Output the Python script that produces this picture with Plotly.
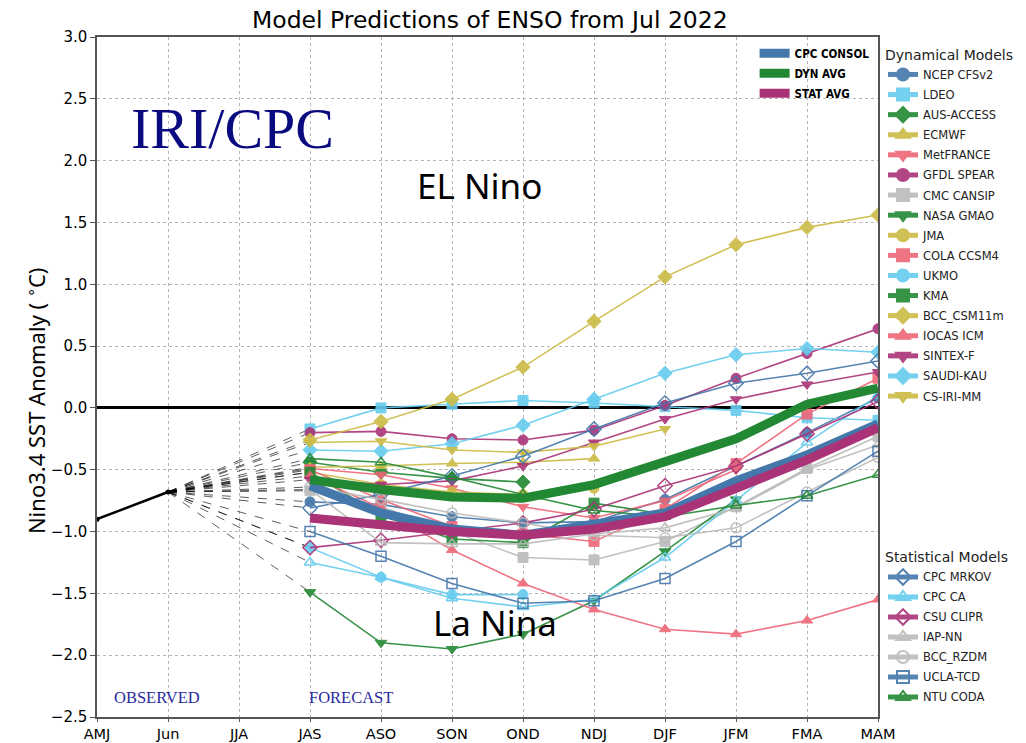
import plotly.graph_objects as go

# ---------------- data ----------------
all_labels = ["AMJ", "Jun", "JJA", "JAS", "ASO", "SON", "OND", "NDJ", "DJF", "JFM", "FMA", "MAM"]
fc_labels = ["JAS", "ASO", "SON", "OND", "NDJ", "DJF", "JFM", "FMA", "MAM"]
y_ticks = [3.0, 2.5, 2.0, 1.5, 1.0, 0.5, 0.0, -0.5, -1.0, -1.5, -2.0, -2.5]

obs_labels = ["AMJ", "Jun"]
obs_values = [-0.90, -0.68]

ncep_cfsv2 = [-0.76, -0.78, -0.88, -0.93, -0.92, -0.74, -0.47, -0.20, 0.08]
ldeo = [-0.17, 0.00, 0.03, 0.06, 0.04, 0.01, -0.02, -0.08, -0.10]
aus_access = [-0.44, -0.52, -0.57, -0.60]
ecmwf = [-0.48, -0.47, -0.45, -0.44, -0.41]
metfrance = [-0.49, -0.54, -0.65, -0.80, -0.89, -0.75, -0.50]
gfdl_spear = [-0.20, -0.19, -0.25, -0.26, -0.18, 0.02, 0.24, 0.44, 0.64]
cmc_cansip = [-0.67, -0.80, -1.00, -1.21, -1.23, -1.08, -0.80, -0.49, -0.23]
nasa_gmao = [-1.49, -1.90, -1.95, -1.83, -1.56, -1.16, -0.74]
jma = [-0.52, -0.62, -0.68, -0.70, -0.65]
cola_ccsm4 = [-0.50, -0.74, -0.96, -1.02, -1.08, -0.82, -0.45, -0.05, 0.24]
ukmo = [-1.13, -1.37, -1.51, -1.51]
kma = [-0.52, -0.87, -1.06, -1.09, -0.77, -0.86]
bcc_csm11m = [-0.26, -0.11, 0.07, 0.33, 0.70, 1.06, 1.32, 1.46, 1.56]
iocas_icm = [-0.55, -0.81, -1.15, -1.42, -1.63, -1.79, -1.83, -1.72, -1.55]
sintex_f = [-0.58, -0.62, -0.59, -0.47, -0.28, -0.09, 0.07, 0.19, 0.29]
saudi_kau = [-0.34, -0.35, -0.29, -0.14, 0.07, 0.28, 0.43, 0.48, 0.45]
cs_iri_mm = [-0.28, -0.27, -0.34, -0.36, -0.31, -0.17]

cpc_mrkov = [-0.81, -0.70, -0.55, -0.39, -0.17, 0.04, 0.20, 0.28, 0.38]
cpc_ca = [-1.25, -1.37, -1.54, -1.61, -1.55, -1.21, -0.75, -0.28, 0.10]
csu_clipr = [-1.13, -1.07, -1.00, -0.93, -0.82, -0.63, -0.47, -0.21, 0.05]
iap_nn = [-0.66, -1.09, -1.10, -1.10, -1.02, -0.97, -0.81, -0.50, -0.30]
bcc_rzdm = [-0.64, -0.74, -0.85, -0.93, -1.03, -1.05, -0.97, -0.68, -0.40]
ucla_tcd = [-1.00, -1.20, -1.42, -1.58, -1.56, -1.38, -1.08, -0.71, -0.35]
ntu_coda = [-0.41, -0.44, -0.56, -0.70, -0.83, -0.88, -0.79, -0.71, -0.54]

cpc_consol = [-0.63, -0.85, -0.98, -1.03, -0.94, -0.85, -0.59, -0.38, -0.13]
dyn_avg = [-0.58, -0.66, -0.72, -0.73, -0.62, -0.44, -0.25, 0.03, 0.16]
stat_avg = [-0.89, -0.94, -1.00, -1.03, -0.98, -0.88, -0.65, -0.42, -0.16]

# ---------------- styles ----------------
BLUE, CYAN, GREEN, YELLOW = "#4477AA", "#66CCEE", "#228833", "#CCBB44"
RED, PURPLE, GRAY = "#EE6677", "#AA3377", "#BBBBBB"

dyn_models = [
    ("NCEP CFSv2", ncep_cfsv2, BLUE, "circle"),
    ("LDEO", ldeo, CYAN, "square"),
    ("AUS-ACCESS", aus_access, GREEN, "diamond"),
    ("ECMWF", ecmwf, YELLOW, "triangle-up"),
    ("MetFRANCE", metfrance, RED, "triangle-down"),
    ("GFDL SPEAR", gfdl_spear, PURPLE, "circle"),
    ("CMC CANSIP", cmc_cansip, GRAY, "square"),
    ("NASA GMAO", nasa_gmao, GREEN, "triangle-down"),
    ("JMA", jma, YELLOW, "circle"),
    ("COLA CCSM4", cola_ccsm4, RED, "square"),
    ("UKMO", ukmo, CYAN, "circle"),
    ("KMA", kma, GREEN, "square"),
    ("BCC_CSM11m", bcc_csm11m, YELLOW, "diamond"),
    ("IOCAS ICM", iocas_icm, RED, "triangle-up"),
    ("SINTEX-F", sintex_f, PURPLE, "triangle-down"),
    ("SAUDI-KAU", saudi_kau, CYAN, "diamond"),
    ("CS-IRI-MM", cs_iri_mm, YELLOW, "triangle-down"),
]
stat_models = [
    ("CPC MRKOV", cpc_mrkov, BLUE, "diamond-open"),
    ("CPC CA", cpc_ca, CYAN, "triangle-up-open"),
    ("CSU CLIPR", csu_clipr, PURPLE, "diamond-open"),
    ("IAP-NN", iap_nn, GRAY, "triangle-up-open"),
    ("BCC_RZDM", bcc_rzdm, GRAY, "circle-open"),
    ("UCLA-TCD", ucla_tcd, BLUE, "square-open"),
    ("NTU CODA", ntu_coda, GREEN, "triangle-up-open"),
]
averages = [
    ("CPC CONSOL", cpc_consol, BLUE),
    ("DYN AVG", dyn_avg, GREEN),
    ("STAT AVG", stat_avg, PURPLE),
]

fig = go.Figure()

# dashed connectors from last observation to each model's first forecast
dx, dy = [], []
for _, vals, _, _ in dyn_models + stat_models:
    dx += [obs_labels[-1], fc_labels[0], None]
    dy += [obs_values[-1], vals[0], None]
fig.add_trace(go.Scatter(x=dx, y=dy, mode="lines", showlegend=False, hoverinfo="skip",
                         line=dict(color="rgba(0,0,0,0.8)", width=0.8, dash="dash")))

# observed
fig.add_trace(go.Scatter(x=obs_labels, y=obs_values, mode="lines+markers", showlegend=False,
                         line=dict(color="black", width=2.5), marker=dict(color="black", size=5)))

for name, vals, col, sym in dyn_models:
    fig.add_trace(go.Scatter(
        x=fc_labels[:len(vals)], y=vals, name=name, mode="lines+markers", legend="legend2",
        legendgroup=name,
        line=dict(color=col, width=1.6),
        marker=dict(symbol=sym, size=11 if "diamond" in sym else 10, color=col,
                    line=dict(color=col, width=1)),
        opacity=0.9))

for name, vals, col, sym in stat_models:
    fig.add_trace(go.Scatter(
        x=fc_labels[:len(vals)], y=vals, name=name, mode="lines+markers", legend="legend3",
        legendgroup=name,
        line=dict(color=col, width=1.6),
        marker=dict(symbol=sym, size=11 if "diamond" in sym else 10, color=col,
                    line=dict(color=col, width=1.5)),
        opacity=0.9))

for name, vals, col in averages:
    fig.add_trace(go.Scatter(
        x=fc_labels, y=vals, name=name, mode="lines", legend="legend", legendgroup=name,
        line=dict(color=col, width=9)))

SANS = "DejaVu Sans, sans-serif"
SERIF = "Liberation Serif, Times New Roman, serif"
ann_font = "Noto Sans, Open Sans, sans-serif"

# the page body adds an 8px offset, so the figure is 8px smaller and margins shifted
fig.update_layout(
    width=1018, height=735,
    margin=dict(l=89, r=148, t=29, b=26, autoexpand=False),
    paper_bgcolor="white", plot_bgcolor="white",
    title=dict(text="Model Predictions of ENSO from Jul 2022", xref="paper", x=0.503, xanchor="center",
               yref="container", y=0.984, yanchor="middle", font=dict(family=SANS, size=23.5, color="black")),
    xaxis=dict(type="category", categoryorder="array", categoryarray=all_labels,
               range=[0, len(all_labels) - 1], tickvals=all_labels, automargin=False,
               showgrid=True, gridcolor="#b5b5b5", griddash="dot", gridwidth=1,
               showline=True, linecolor="#555555", linewidth=1.5, mirror=True,
               ticks="outside", ticklen=3, tickcolor="#555555",
               tickfont=dict(family=SANS, size=14.5, color="black"), zeroline=False),
    yaxis=dict(range=[-2.5, 3.0], tickvals=y_ticks, tickformat=".1f", automargin=False,
               showgrid=True, gridcolor="#b5b5b5", griddash="dot", gridwidth=1,
               showline=True, linecolor="#555555", linewidth=1.5, mirror=True,
               ticks="outside", ticklen=5, tickcolor="#555555",
               tickfont=dict(family=SANS, size=15, color="black"),
               zeroline=True, zerolinecolor="black", zerolinewidth=2.5),
    legend=dict(x=0.842, y=0.9976, xanchor="left", yanchor="top", bgcolor="rgba(255,255,255,0)",
                font=dict(family="DejaVu Sans Condensed, DejaVu Sans, sans-serif", size=11.5,
                          color="black", weight="bold"),
                itemwidth=30, tracegroupgap=1),
    legend2=dict(x=1.0064, y=0.9930, xanchor="left", yanchor="top", bgcolor="rgba(255,255,255,0)",
                 title=dict(text="Dynamical Models", font=dict(family=SANS, size=14, color="#222")),
                 font=dict(family=SANS, size=11.5, color="#222"), itemwidth=30,
                 itemsizing="constant", tracegroupgap=1.1),
    legend3=dict(x=1.0064, y=0.254, xanchor="left", yanchor="top", bgcolor="rgba(255,255,255,0)",
                 title=dict(text="Statistical Models", font=dict(family=SANS, size=14, color="#222")),
                 font=dict(family=SANS, size=11.5, color="#222"), itemwidth=30,
                 itemsizing="constant", tracegroupgap=1.0),
    showlegend=True,
)

fig.add_annotation(text="Nino3.4 SST Anomaly ( <sup>∘</sup>C)", textangle=-90,
                   x=-0.0794, y=0.466, xref="paper", yref="paper", showarrow=False,
                   xanchor="center", yanchor="middle",
                   font=dict(family=ann_font, size=22, color="black"))
fig.add_annotation(text="IRI/CPC", x=0.173, y=0.866, xref="paper", yref="paper", showarrow=False,
                   xanchor="center", yanchor="middle",
                   font=dict(family=SERIF, size=58, color="#0a0a80"))
fig.add_annotation(text="EL Nino", x=0.490, y=0.781, xref="paper", yref="paper", showarrow=False,
                   xanchor="center", yanchor="middle",
                   font=dict(family=ann_font, size=35, color="black"))
fig.add_annotation(text="La Nina", x=0.5096, y=0.1397, xref="paper", yref="paper", showarrow=False,
                   xanchor="center", yanchor="middle",
                   font=dict(family=ann_font, size=35, color="black"))
fig.add_annotation(text="OBSERVED", x=0.0768, y=0.028, xref="paper", yref="paper", showarrow=False,
                   xanchor="center", yanchor="middle",
                   font=dict(family=SERIF, size=16.5, color="#2a2aa0"))
fig.add_annotation(text="FORECAST", x=0.325, y=0.028, xref="paper", yref="paper", showarrow=False,
                   xanchor="center", yanchor="middle",
                   font=dict(family=SERIF, size=16.5, color="#2a2aa0"))

fig.write_html("out.html")
